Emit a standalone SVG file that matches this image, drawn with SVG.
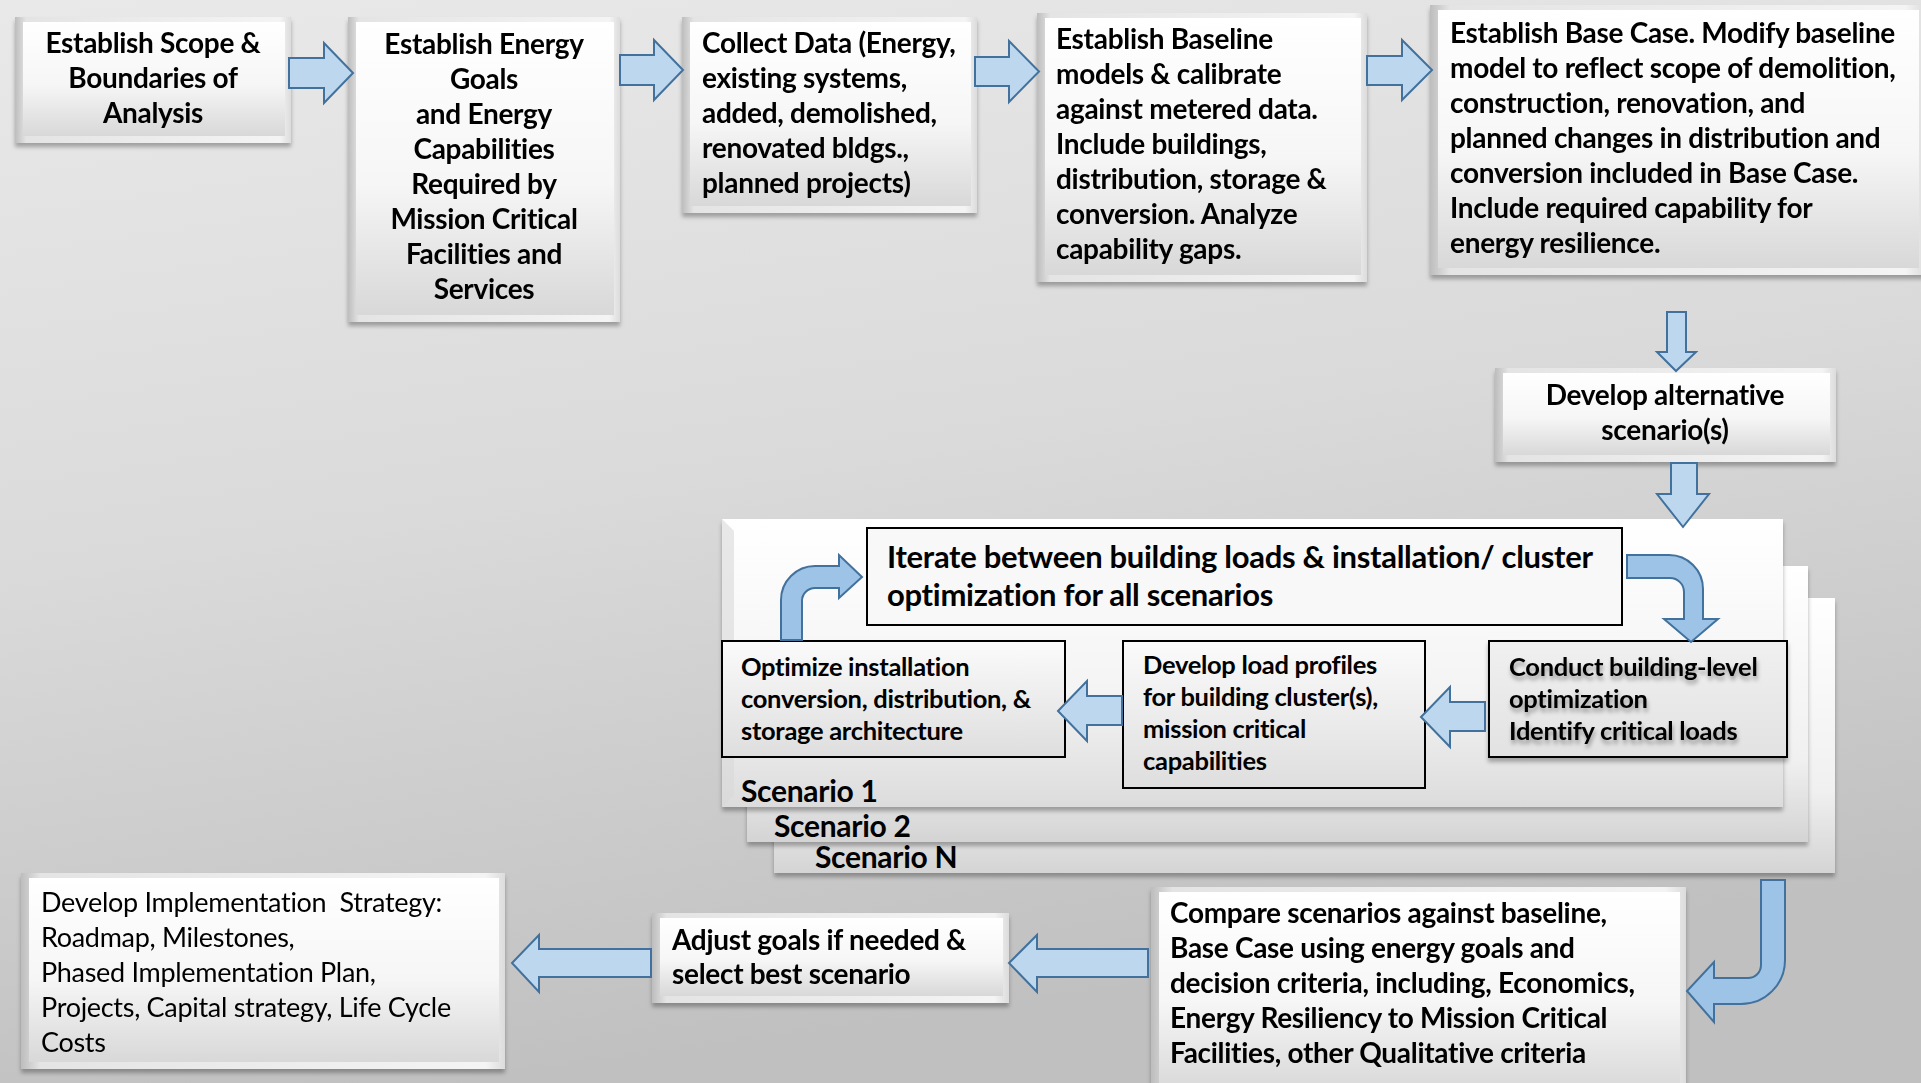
<svg xmlns="http://www.w3.org/2000/svg" width="1921" height="1083" viewBox="0 0 1921 1083">
<style>
.t{font-family:Lato,"Open Sans",sans-serif;font-weight:700;font-size:28px;letter-spacing:-0.3px;fill:#000}
.c{text-anchor:middle}
.r{font-weight:400;font-size:27px}
.it{font-size:31px}
.sm{font-size:25.5px}
.sc{font-size:30px}
.arr{fill:#bdd7ee;stroke:#41719c;stroke-width:2;stroke-linejoin:miter}
.carr{fill:#9dc3e6;stroke:#41719c;stroke-width:2}
.bo{fill:url(#edge)}
.bi{fill:url(#face)}
.ib{stroke:#000;stroke-width:2}
</style>
<defs>
<linearGradient id="bg" x1="0" y1="0" x2="0.25" y2="1">
<stop offset="0" stop-color="#e9e9e9"/><stop offset="0.5" stop-color="#dadada"/><stop offset="1" stop-color="#c0c0c0"/>
</linearGradient>
<linearGradient id="edge" x1="0" y1="0" x2="1" y2="0">
<stop offset="0" stop-color="#bdbdbd"/><stop offset="0.04" stop-color="#e4e4e4"/><stop offset="0.96" stop-color="#f4f4f4"/><stop offset="1" stop-color="#dcdcdc"/>
</linearGradient>
<linearGradient id="face" x1="0" y1="0" x2="0" y2="1">
<stop offset="0" stop-color="#ffffff"/><stop offset="0.55" stop-color="#f6f6f6"/><stop offset="1" stop-color="#d8d8d8"/>
</linearGradient>
<linearGradient id="panel" x1="0" y1="0" x2="0" y2="1">
<stop offset="0" stop-color="#ffffff"/><stop offset="0.6" stop-color="#f4f4f4"/><stop offset="1" stop-color="#dcdcdc"/>
</linearGradient>
<linearGradient id="panel2" x1="0" y1="0" x2="0" y2="1">
<stop offset="0" stop-color="#ffffff"/><stop offset="0.7" stop-color="#f0f0f0"/><stop offset="1" stop-color="#d4d4d4"/>
</linearGradient>
<linearGradient id="ibox" x1="0" y1="0" x2="0" y2="1">
<stop offset="0" stop-color="#fbfbfb"/><stop offset="1" stop-color="#dedede"/>
</linearGradient>
<linearGradient id="cbox" x1="0" y1="0" x2="0" y2="1">
<stop offset="0" stop-color="#f0f0f0"/><stop offset="1" stop-color="#e2e2e2"/>
</linearGradient>
<filter id="sh" x="-5%" y="-5%" width="110%" height="115%">
<feDropShadow dx="0" dy="4" stdDeviation="2" flood-color="#000" flood-opacity="0.3"/>
</filter>
<filter id="tsh" x="-5%" y="-20%" width="110%" height="150%">
<feDropShadow dx="1" dy="4" stdDeviation="2" flood-color="#000" flood-opacity="0.35"/>
</filter>
</defs>
<rect width="1921" height="1083" fill="url(#bg)"/>

<g id="scenario-n">
<rect x="774" y="598" width="1061" height="275" fill="url(#panel2)" filter="url(#sh)"/>
<text class="t sc" x="815" y="868">Scenario N</text>
</g>
<g id="scenario-2">
<rect x="747" y="566" width="1061" height="276" fill="url(#panel2)" filter="url(#sh)"/>
<text class="t sc" x="774" y="837">Scenario 2</text>
</g>
<g id="scenario-1">
<rect x="722" y="519" width="1061" height="288" fill="url(#panel)" filter="url(#sh)"/>
<polygon points="722,519 734,531 734,795 722,807" fill="#d9d9d9" opacity="0.6"/>
<text class="t sc" x="741" y="802">Scenario 1</text>
</g>

<g id="n1" filter="url(#sh)">
<rect class="bo" x="15" y="17" width="276" height="126"/>
<rect class="bi" x="23" y="22" width="262" height="114"/>
<text class="t c" x="153" y="53">Establish Scope &amp;</text>
<text class="t c" x="153" y="88">Boundaries of</text>
<text class="t c" x="153" y="123">Analysis</text>
</g>
<g id="n2" filter="url(#sh)">
<rect class="bo" x="348" y="17" width="272" height="305"/>
<rect class="bi" x="356" y="22" width="258" height="293"/>
<text class="t c" x="484" y="54">Establish Energy</text>
<text class="t c" x="484" y="89">Goals</text>
<text class="t c" x="484" y="124">and Energy</text>
<text class="t c" x="484" y="159">Capabilities</text>
<text class="t c" x="484" y="194">Required by</text>
<text class="t c" x="484" y="229">Mission Critical</text>
<text class="t c" x="484" y="264">Facilities and</text>
<text class="t c" x="484" y="299">Services</text>
</g>
<g id="n3" filter="url(#sh)">
<rect class="bo" x="682" y="17" width="295" height="196"/>
<rect class="bi" x="690" y="22" width="281" height="184"/>
<text class="t" x="702" y="53">Collect Data (Energy,</text>
<text class="t" x="702" y="88">existing systems,</text>
<text class="t" x="702" y="123">added, demolished,</text>
<text class="t" x="702" y="158">renovated bldgs.,</text>
<text class="t" x="702" y="193">planned projects)</text>
</g>
<g id="n4" filter="url(#sh)">
<rect class="bo" x="1037" y="13" width="330" height="269"/>
<rect class="bi" x="1045" y="18" width="316" height="257"/>
<text class="t" x="1056" y="49">Establish Baseline</text>
<text class="t" x="1056" y="84">models &amp; calibrate</text>
<text class="t" x="1056" y="119">against metered data.</text>
<text class="t" x="1056" y="154">Include buildings,</text>
<text class="t" x="1056" y="189">distribution, storage &amp;</text>
<text class="t" x="1056" y="224">conversion. Analyze</text>
<text class="t" x="1056" y="259">capability gaps.</text>
</g>
<g id="n5" filter="url(#sh)">
<rect class="bo" x="1430" y="5" width="495" height="270"/>
<rect class="bi" x="1438" y="10" width="481" height="258"/>
<text class="t" x="1450" y="43">Establish Base Case. Modify baseline</text>
<text class="t" x="1450" y="78">model to reflect scope of demolition,</text>
<text class="t" x="1450" y="113">construction, renovation, and</text>
<text class="t" x="1450" y="148">planned changes in distribution and</text>
<text class="t" x="1450" y="183">conversion included in Base Case.</text>
<text class="t" x="1450" y="218">Include required capability for</text>
<text class="t" x="1450" y="253">energy resilience.</text>
</g>
<g id="n6" filter="url(#sh)">
<rect class="bo" x="1495" y="368" width="341" height="94"/>
<rect class="bi" x="1503" y="373" width="327" height="82"/>
<text class="t c" x="1665" y="405">Develop alternative</text>
<text class="t c" x="1665" y="440">scenario(s)</text>
</g>

<g id="n-iterate">
<rect class="ib" x="867" y="528" width="755" height="97" fill="#f8f8f8"/>
<text class="t it" x="887" y="568">Iterate between building loads &amp; installation/ cluster</text>
<text class="t it" x="887" y="606">optimization for all scenarios</text>
</g>
<g id="n-optimize">
<rect class="ib" x="722" y="641" width="343" height="116" fill="url(#ibox)"/>
<text class="t sm" x="741" y="676">Optimize installation</text>
<text class="t sm" x="741" y="708">conversion, distribution, &amp;</text>
<text class="t sm" x="741" y="740">storage architecture</text>
</g>
<g id="n-loadprofiles">
<rect class="ib" x="1123" y="641" width="302" height="147" fill="url(#ibox)"/>
<text class="t sm" x="1143" y="674">Develop load profiles</text>
<text class="t sm" x="1143" y="706">for building cluster(s),</text>
<text class="t sm" x="1143" y="738">mission critical</text>
<text class="t sm" x="1143" y="770">capabilities</text>
</g>
<g id="n-conduct">
<rect class="ib" x="1489" y="641" width="298" height="116" fill="url(#cbox)" filter="url(#sh)"/>
<g filter="url(#tsh)">
<text class="t sm" x="1509" y="676">Conduct building-level</text>
<text class="t sm" x="1509" y="708">optimization</text>
<text class="t sm" x="1509" y="740">Identify critical loads</text>
</g>
</g>

<g id="n-compare" filter="url(#sh)">
<rect class="bo" x="1151" y="887" width="535" height="210"/>
<rect class="bi" x="1159" y="892" width="521" height="200"/>
<text class="t" x="1170" y="923">Compare scenarios against baseline,</text>
<text class="t" x="1170" y="958">Base Case using energy goals and</text>
<text class="t" x="1170" y="993">decision criteria, including, Economics,</text>
<text class="t" x="1170" y="1028">Energy Resiliency to Mission Critical</text>
<text class="t" x="1170" y="1063">Facilities, other Qualitative criteria</text>
</g>
<g id="n-adjust" filter="url(#sh)">
<rect class="bo" x="652" y="913" width="357" height="90"/>
<rect class="bi" x="660" y="918" width="343" height="78"/>
<text class="t" x="672" y="950">Adjust goals if needed &amp;</text>
<text class="t" x="672" y="984">select best scenario</text>
</g>
<g id="n-implement" filter="url(#sh)">
<rect class="bo" x="21" y="873" width="484" height="196"/>
<rect class="bi" x="29" y="878" width="470" height="184"/>
<text class="t r" x="41" y="912" xml:space="preserve">Develop Implementation  Strategy:</text>
<text class="t r" x="41" y="947">Roadmap, Milestones,</text>
<text class="t r" x="41" y="982">Phased Implementation Plan,</text>
<text class="t r" x="41" y="1017">Projects, Capital strategy, Life Cycle</text>
<text class="t r" x="41" y="1052">Costs</text>
</g>

<g id="connectors">
<polygon class="arr" points="289,58 324,58 324,43 353,73 324,103 324,88 289,88"/>
<polygon class="arr" points="620,55 654,55 654,40 683,70 654,100 654,85 620,85"/>
<polygon class="arr" points="975,57 1009,57 1009,41 1039,71.5 1009,102 1009,86 975,86"/>
<polygon class="arr" points="1367,56 1402,56 1402,40 1432,70 1402,100 1402,85 1367,85"/>
<polygon class="arr" points="1667,312 1686,312 1686,352 1696,352 1676,371 1657,352 1667,352"/>
<polygon class="arr" points="1671,463 1697,463 1697,494 1709,494 1683,527 1657,494 1671,494"/>
<polygon class="arr" points="1485,702 1450,702 1450,687 1421,717 1450,747 1450,731 1485,731"/>
<polygon class="arr" points="1122,696 1087,696 1087,681 1058,711 1087,741 1087,725 1122,725"/>
<polygon class="arr" points="1148,949 1037,949 1037,935 1009,963 1037,992 1037,977 1148,977"/>
<polygon class="arr" points="651,949 539,949 539,935 512,963 539,992 539,977 651,977"/>
<path class="carr" d="M781,640 L781,600 A34,34 0 0 1 815,566 L839,566 L839,555 L862,577 L839,598 L839,588 L815,588 A13,13 0 0 0 802,601 L802,640 Z"/>
<path class="carr" d="M1627,555 L1669,555 A34,34 0 0 1 1703,589 L1703,619 L1718,619 L1691,642 L1664,619 L1684,619 L1684,592 A14,14 0 0 0 1670,578 L1627,578 Z"/>
<path class="carr" d="M1761,880 L1785,880 L1785,960 A44,44 0 0 1 1741,1004 L1714,1004 L1714,1022 L1687,991 L1714,962 L1714,978 L1748,978 A13,13 0 0 0 1761,965 Z"/>
</g>
</svg>
